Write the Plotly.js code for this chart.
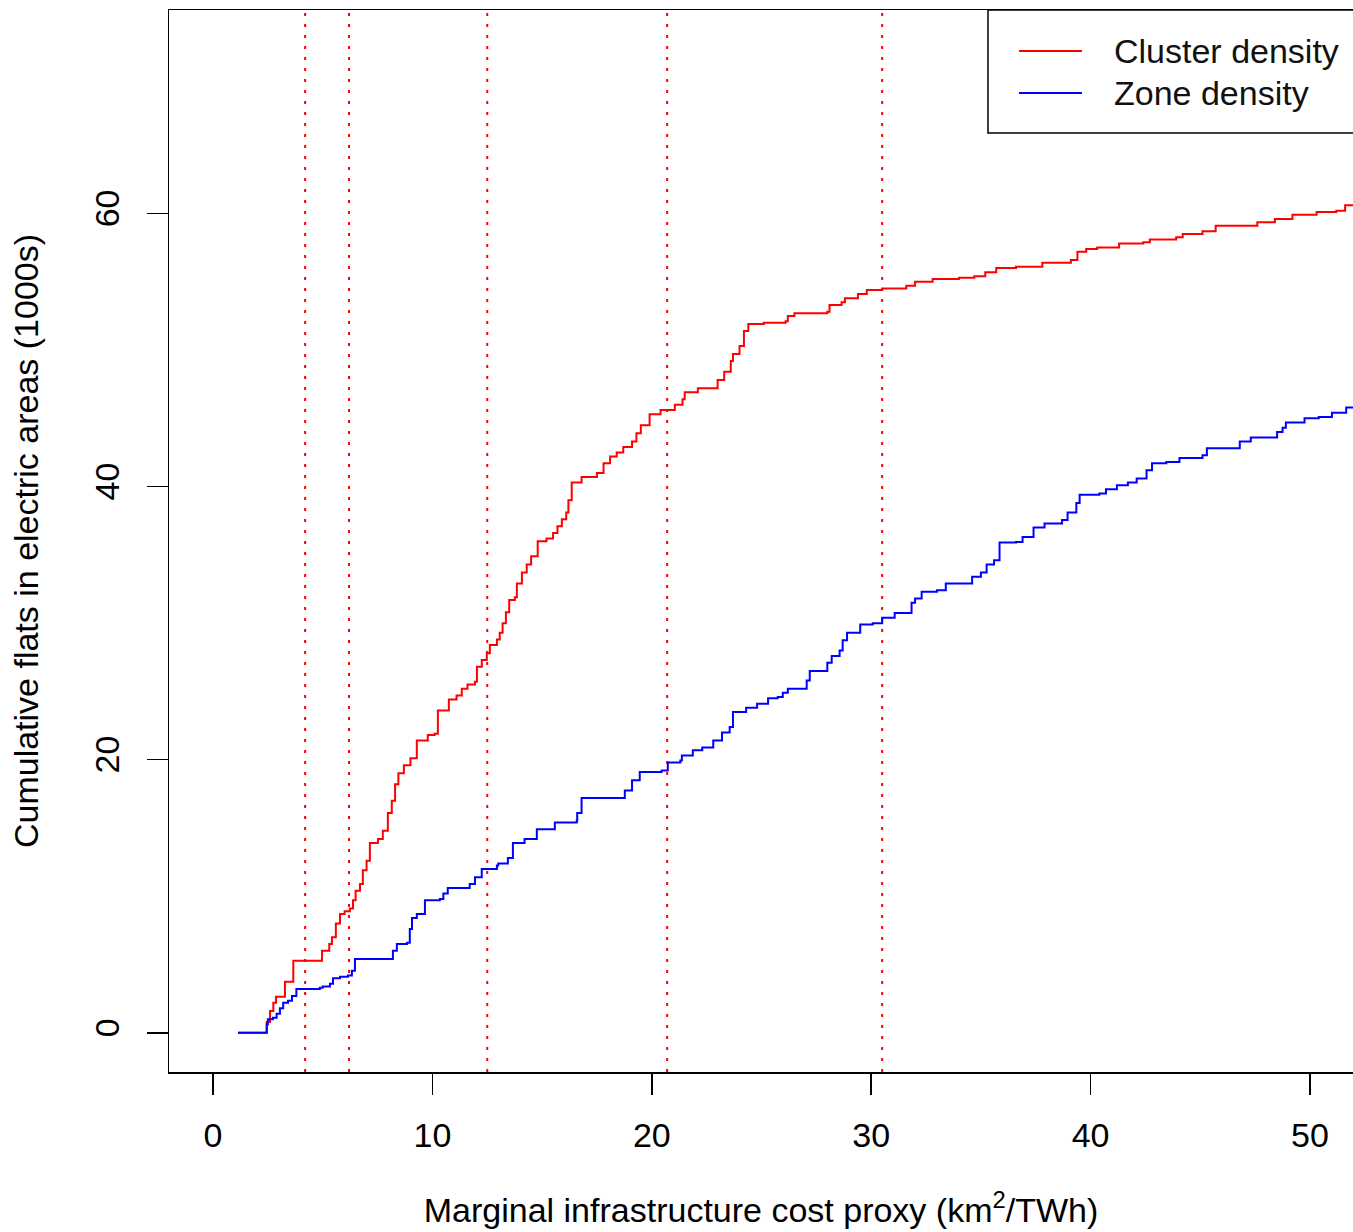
<!DOCTYPE html>
<html>
<head>
<meta charset="utf-8">
<script src="https://cdn.plot.ly/plotly-3.0.1.min.js"></script>
<style>html,body{margin:0;padding:0;background:#fff;}#chart{width:1353px;height:1232px;}</style>
</head>
<body>
<div id="chart"></div>
<script>
// Series names and colours
const seriesNames = ["Cluster density", "Zone density"];
const seriesColors = ["#FF0000", "#0000FF"];

// Cluster density: step points (cost proxy, cumulative flats in 1000s)
const clusterX = [1.14, 2.45, 2.6, 2.75, 2.87, 3.28, 3.66, 4.97, 5.3, 5.42, 5.6, 5.79, 6.0, 6.24, 6.38, 6.5, 6.7, 6.83, 7.0, 7.15, 7.52, 7.74, 7.97, 8.15, 8.3, 8.45, 8.7, 9.0, 9.29, 9.79, 10.1, 10.25, 10.75, 11.1, 11.34, 11.6, 11.94, 12.03, 12.25, 12.48, 12.62, 12.94, 13.07, 13.2, 13.35, 13.5, 13.76, 13.85, 14.08, 14.3, 14.5, 14.8, 15.2, 15.5, 15.7, 15.9, 16.1, 16.2, 16.35, 16.8, 17.5, 17.8, 18.1, 18.4, 18.7, 19.1, 19.3, 19.5, 19.9, 20.4, 21.05, 21.4, 21.5, 22.1, 23.0, 23.3, 23.6, 23.7, 24.0, 24.2, 24.4, 25.1, 26.1, 26.2, 26.5, 28.0, 28.1, 28.65, 28.8, 29.4, 29.8, 30.5, 31.6, 32.0, 32.8, 34.0, 34.7, 35.2, 35.7, 36.6, 37.8, 39.1, 39.4, 39.8, 40.3, 41.3, 42.4, 42.7, 43.9, 44.2, 45.1, 45.7, 46.9, 47.6, 48.4, 49.2, 50.3, 51.2, 51.6, 52.5];
const clusterY = [0, 0.8, 1.6, 2.2, 2.64, 3.74, 5.28, 6.0, 6.5, 7.0, 8.0, 8.7, 8.9, 9.1, 9.7, 10.4, 10.9, 11.9, 12.6, 13.9, 14.2, 14.8, 16.1, 17.0, 18.2, 19.0, 19.6, 20.1, 21.4, 21.8, 21.9, 23.6, 24.4, 24.7, 25.2, 25.5, 25.7, 26.8, 27.3, 27.8, 28.4, 28.8, 29.3, 30.0, 30.8, 31.7, 31.9, 32.9, 33.7, 34.3, 34.9, 36.0, 36.2, 36.6, 37.1, 37.6, 38.1, 39.0, 40.3, 40.7, 41.0, 41.7, 42.2, 42.5, 42.9, 43.3, 43.9, 44.5, 45.3, 45.6, 46.0, 46.4, 46.9, 47.2, 47.8, 48.4, 49.2, 49.7, 50.3, 51.4, 51.9, 52.0, 52.1, 52.5, 52.7, 52.8, 53.3, 53.5, 53.8, 54.1, 54.4, 54.5, 54.7, 55.0, 55.2, 55.3, 55.4, 55.7, 56.0, 56.1, 56.4, 56.6, 57.2, 57.4, 57.5, 57.8, 57.9, 58.1, 58.25, 58.5, 58.7, 59.1, 59.1, 59.35, 59.6, 59.9, 60.1, 60.2, 60.6, 60.6];

// Zone density: step points
const zoneX = [1.14, 2.45, 2.5, 2.73, 2.9, 3.05, 3.2, 3.42, 3.6, 3.8, 4.87, 5.0, 5.33, 5.47, 5.79, 6.15, 6.33, 6.47, 8.2, 8.38, 8.84, 8.97, 9.07, 9.29, 9.66, 10.34, 10.5, 10.7, 11.7, 11.94, 12.25, 12.94, 13.0, 13.44, 13.67, 14.2, 14.76, 15.58, 16.58, 16.6, 16.8, 18.77, 19.1, 19.45, 20.45, 20.73, 21.3, 21.37, 21.87, 22.3, 22.8, 23.2, 23.55, 23.7, 24.3, 24.8, 25.3, 25.74, 25.97, 26.2, 27.06, 27.2, 28.0, 28.2, 28.56, 28.7, 28.9, 29.5, 30.07, 30.5, 31.07, 31.84, 32.0, 32.3, 33.0, 33.4, 34.6, 35.0, 35.26, 35.6, 35.85, 36.6, 36.9, 37.4, 37.9, 38.7, 38.95, 39.35, 39.5, 40.4, 40.7, 41.2, 41.7, 42.1, 42.55, 42.8, 43.45, 44.05, 45.1, 45.3, 46.8, 47.3, 48.5, 48.75, 48.9, 49.75, 50.4, 51.0, 51.65, 52.5];
const zoneY = [0, 0.6, 1.0, 1.1, 1.4, 1.8, 2.2, 2.35, 2.7, 3.2, 3.3, 3.4, 3.6, 4.0, 4.1, 4.2, 4.55, 5.4, 6.0, 6.5, 6.6, 7.6, 8.4, 8.7, 9.7, 9.8, 10.2, 10.6, 10.9, 11.4, 12.0, 12.25, 12.4, 12.8, 13.9, 14.2, 14.9, 15.4, 15.55, 16.1, 17.2, 17.75, 18.5, 19.1, 19.2, 19.8, 19.95, 20.3, 20.7, 20.9, 21.4, 22.0, 22.4, 23.5, 23.8, 24.1, 24.5, 24.6, 24.9, 25.2, 25.8, 26.5, 27.1, 27.6, 28.0, 28.75, 29.3, 29.9, 30.0, 30.4, 30.75, 31.5, 31.8, 32.3, 32.4, 32.9, 33.4, 33.7, 34.3, 34.6, 35.9, 35.95, 36.3, 37.0, 37.3, 37.55, 38.1, 38.8, 39.4, 39.5, 39.8, 40.1, 40.3, 40.6, 41.2, 41.7, 41.8, 42.1, 42.3, 42.8, 43.3, 43.6, 44.0, 44.3, 44.7, 45.0, 45.1, 45.4, 45.8, 45.8];

// Vertical reference lines (cost thresholds)
const thresholds = [4.2, 6.2, 12.5, 20.7, 30.5];

// Axis ticks
const xTicks = [0, 10, 20, 30, 40, 50];
const yTicks = [0, 20, 40, 60];

const FONT = "Liberation Sans, Arial, Helvetica, sans-serif";
const FS = 34;

const traces = [
  {x: clusterX, y: clusterY, name: seriesNames[0], type: "scatter", mode: "lines",
   line: {color: seriesColors[0], width: 2, shape: "hv"}, showlegend: false},
  {x: zoneX, y: zoneY, name: seriesNames[1], type: "scatter", mode: "lines",
   line: {color: seriesColors[1], width: 2, shape: "hv"}, showlegend: false}
];

const shapes = thresholds.map(v => ({
  type: "line", xref: "x", yref: "paper", x0: v, x1: v, y0: 0, y1: 1,
  line: {color: "#FF0000", width: 2, dash: "3px,8px"}, layer: "below"
}));

// Legend box in R style (top-right, partly cut by the figure edge)
const legBox = {x0: 0.6917, x1: 1.02, y0: 0.8842, y1: 1};
shapes.push({type: "rect", xref: "paper", yref: "paper",
  x0: legBox.x0, x1: legBox.x1, y0: legBox.y0, y1: legBox.y1,
  line: {color: "#000", width: 1.5}, fillcolor: "#fff", layer: "above"});
const legRowY = [0.9614, 0.9218];
const annotations = [];
seriesNames.forEach((nm, i) => {
  shapes.push({type: "line", xref: "paper", yref: "paper",
    x0: 0.7179, x1: 0.7711, y0: legRowY[i], y1: legRowY[i],
    line: {color: seriesColors[i], width: 2}, layer: "above"});
  annotations.push({xref: "paper", yref: "paper", x: 0.7965, y: legRowY[i],
    xanchor: "left", yanchor: "middle", showarrow: false, text: nm,
    font: {family: FONT, size: FS, color: "#111"}});
});

const layout = {
  width: 1353, height: 1232,
  margin: {l: 169, r: 0, t: 10, b: 160, autoexpand: false},
  paper_bgcolor: "#fff", plot_bgcolor: "#fff",
  font: {family: FONT, size: FS, color: "#000"},
  showlegend: false,
  xaxis: {
    range: [-2.005, 51.96], tickvals: xTicks, ticktext: xTicks.map(String),
    ticks: "outside", ticklen: 21, tickwidth: 1.5, tickcolor: "#000",
    showline: true, mirror: true, linecolor: "#000", linewidth: 1.5,
    showgrid: false, zeroline: false, automargin: false,
    ticklabelstandoff: 12,
    tickfont: {family: FONT, size: FS, color: "#000"},
    title: {text: "Marginal infrastructure cost proxy (km<sup>2</sup>/TWh)", standoff: 45,
            font: {family: FONT, size: FS, color: "#000"}}
  },
  yaxis: {
    range: [-2.87, 74.9], tickvals: yTicks, ticktext: yTicks.map(String),
    tickangle: -90,
    ticks: "outside", ticklen: 21, tickwidth: 1.5, tickcolor: "#000",
    showline: true, mirror: true, linecolor: "#000", linewidth: 1.5,
    showgrid: false, zeroline: false, automargin: false,
    ticklabelstandoff: 14,
    tickfont: {family: FONT, size: FS, color: "#000"},
    title: {text: "Cumulative flats in electric areas (1000s)", standoff: 39,
            font: {family: FONT, size: FS, color: "#000"}}
  },
  shapes: shapes,
  annotations: annotations
};

Plotly.newPlot("chart", traces, layout, {displayModeBar: false, staticPlot: true});
</script>
</body>
</html>
